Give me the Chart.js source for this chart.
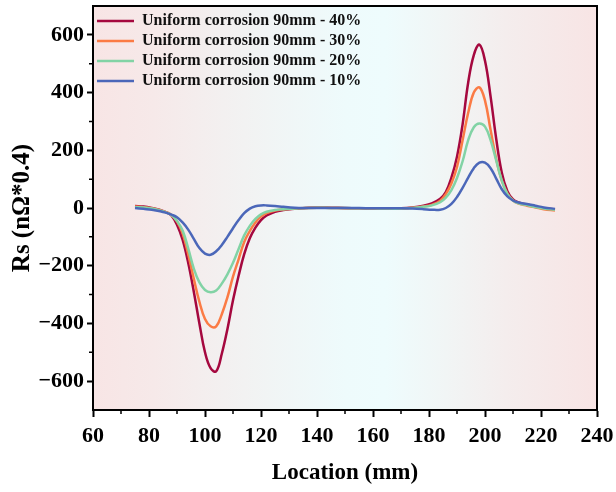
<!DOCTYPE html>
<html>
<head>
<meta charset="utf-8">
<script src="https://cdn.jsdelivr.net/npm/chart.js@4.4.1/dist/chart.umd.min.js"></script>
<style>
  html, body { margin: 0; padding: 0; background: #fff; }
  #wrap { width: 616px; height: 492px; }
</style>
</head>
<body>
<div id="wrap"><canvas id="rsChart" width="616" height="492"></canvas></div>
<script>
"use strict";

// Location (mm), shared by all four curves
var locations = [75, 78, 81, 84, 86, 88, 90, 92, 94, 96, 98, 100, 102, 104, 106, 108, 110, 112, 114, 116,
    118, 120, 122, 125, 128, 132, 136, 140, 145, 150, 155, 160, 165, 170, 174, 178, 181, 184, 186, 188,
    190, 192, 194, 196, 198, 200, 202, 204, 206, 208, 210, 212, 215, 218, 221, 225];

var rs40 = [7, 5, 0, -7, -14, -26, -58, -110, -190, -290, -400, -500, -555, -566, -505, -420, -320, -235, -160, -105,
    -68, -42, -26, -13, -7, -3, 0, 2, 1, 0, -1, -2, -2, -1, 2, 8, 16, 32, 55, 105,
    178, 290, 435, 530, 566, 510, 386, 240, 122, 58, 30, 19, 12, 5, -1, -5];

var rs30 = [5, 3, -1, -8, -14, -24, -46, -88, -160, -245, -325, -385, -410, -410, -368, -310, -238, -178, -118, -80,
    -50, -30, -18, -9, -5, -2, 0, 1, 0, -1, -1, -2, -3, -2, 1, 5, 11, 25, 48, 85,
    142, 235, 330, 400, 418, 372, 270, 170, 95, 50, 26, 15, 8, 2, -4, -9];

var rs20 = [3, 2, -2, -9, -15, -24, -45, -78, -140, -210, -258, -284, -292, -286, -262, -230, -190, -142, -95, -62,
    -38, -22, -13, -7, -4, -2, 0, 1, 0, 0, -1, -1, -2, -2, 0, 4, 9, 20, 36, 62,
    104, 162, 235, 280, 293, 282, 235, 165, 95, 48, 26, 16, 10, 3, -2, -6];

var rs10 = [0, -3, -6, -11, -16, -23, -32, -50, -75, -107, -139, -158, -162, -150, -128, -100, -70, -42, -18, -2,
    6, 9, 9, 7, 4, 1, 0, 0, 0, 0, 0, -1, -1, -1, -2, -4, -6, -6, 0, 14,
    38, 70, 105, 138, 157, 157, 138, 102, 65, 40, 26, 19, 14, 8, 2, -3];

var seriesLabels = ["Uniform corrosion 90mm - 40%", "Uniform corrosion 90mm - 30%",
    "Uniform corrosion 90mm - 20%", "Uniform corrosion 90mm - 10%"];
var seriesColors = ["#a5083f", "#fb7b45", "#82d3a5", "#4b67b9"];

var xTicks = [60, 80, 100, 120, 140, 160, 180, 200, 220, 240];
var yTicks = [-600, -400, -200, 0, 200, 400, 600];

var serifBold = function (size) {
    return { family: "'Liberation Serif', 'Times New Roman', serif", size: size, weight: "bold" };
};

function toPoints(values) {
    return locations.map(function (x, i) { return { x: x, y: values[i] }; });
}

// background gradient inside the plot
var plotBackground = {
    id: "plotBackground",
    beforeDraw: function (chart) {
        var a = chart.chartArea, ctx = chart.ctx;
        var g = ctx.createLinearGradient(a.left, 0, a.right, 0);
        g.addColorStop(0, "#f8e5e5");
        g.addColorStop(0.12, "#f6e9e9");
        g.addColorStop(0.3, "#f2f2f2");
        g.addColorStop(0.5, "#eefbfc");
        g.addColorStop(0.58, "#eefcfd");
        g.addColorStop(0.7, "#f1f5f5");
        g.addColorStop(0.82, "#f4eded");
        g.addColorStop(1, "#f8e4e4");
        ctx.save();
        ctx.fillStyle = g;
        ctx.fillRect(a.left, a.top, a.right - a.left, a.bottom - a.top);
        ctx.restore();
    }
};

// frame + short minor ticks
var frameAndMinor = {
    id: "frameAndMinor",
    afterDraw: function (chart) {
        var a = chart.chartArea, ctx = chart.ctx;
        var xs = chart.scales.x, ys = chart.scales.y;
        ctx.save();
        ctx.strokeStyle = "#000";
        ctx.lineWidth = 2;
        ctx.strokeRect(a.left, a.top, a.right - a.left, a.bottom - a.top);
        ctx.lineWidth = 1.5;
        ctx.beginPath();
        xs.ticks.forEach(function (t) {
            if (xTicks.indexOf(t.value) < 0) {
                var px = xs.getPixelForValue(t.value);
                ctx.moveTo(px, a.bottom);
                ctx.lineTo(px, a.bottom + 4);
            }
        });
        ys.ticks.forEach(function (t) {
            if (yTicks.indexOf(t.value) < 0 && Math.abs(t.value) < 700) {
                var py = ys.getPixelForValue(t.value);
                ctx.moveTo(a.left, py);
                ctx.lineTo(a.left - 4, py);
            }
        });
        ctx.stroke();
        ctx.restore();
    }
};

var datasets = [rs40, rs30, rs20, rs10].map(function (vals, i) {
    return {
        label: seriesLabels[i],
        data: toPoints(vals),
        borderColor: seriesColors[i],
        backgroundColor: seriesColors[i],
        borderWidth: 2.5,
        pointRadius: 0,
        tension: 0.4,
        fill: false,
        order: 3 - i
    };
});

var RSCHART = document.getElementById("rsChart");
var myChart = new Chart(RSCHART, {
    type: "line",
    data: { datasets: datasets },
    plugins: [plotBackground, frameAndMinor],
    options: {
        responsive: false,
        animation: false,
        layout: { padding: { left: 0, top: 6, right: 19, bottom: 0 } },
        plugins: {
            tooltip: { enabled: false },
            legend: {
                position: "chartArea",
                align: "start",
                // tiny empty title only used to push the entries down a bit
                title: { display: true, text: "", font: { size: 2 }, padding: 3.3 },
                labels: {
                    usePointStyle: true,
                    pointStyle: "line",
                    pointStyleWidth: 37,
                    padding: 4,
                    color: "#111",
                    font: serifBold(16),
                    sort: function (a, b) { return a.datasetIndex - b.datasetIndex; }
                }
            }
        },
        scales: {
            x: {
                type: "linear",
                min: 60,
                max: 240,
                afterFit: function (scale) {
                    scale.height = 82;
                    scale.paddingLeft = 0;
                    scale.paddingRight = 0;
                },
                border: { display: true, color: "#000", width: 2 },
                grid: {
                    drawOnChartArea: false,
                    tickLength: 7,
                    tickWidth: 2,
                    tickColor: function (c) {
                        return c.tick && xTicks.indexOf(c.tick.value) >= 0 ? "#000" : "rgba(0,0,0,0)";
                    }
                },
                ticks: {
                    stepSize: 10,
                    autoSkip: false,
                    maxRotation: 0,
                    padding: 6,
                    color: "#000",
                    font: serifBold(22),
                    callback: function (v) { return xTicks.indexOf(v) >= 0 ? String(v) : ""; }
                },
                title: {
                    display: true,
                    text: "Location (mm)",
                    color: "#000",
                    font: serifBold(23),
                    padding: { top: 0, bottom: 5 }
                }
            },
            y: {
                type: "linear",
                min: -700,
                max: 700,
                afterFit: function (scale) {
                    scale.width = 93;
                    scale.paddingTop = 0;
                    scale.paddingBottom = 0;
                },
                border: { display: true, color: "#000", width: 2 },
                grid: {
                    drawOnChartArea: false,
                    tickLength: 6,
                    tickWidth: 2,
                    tickColor: function (c) {
                        return c.tick && yTicks.indexOf(c.tick.value) >= 0 ? "#000" : "rgba(0,0,0,0)";
                    }
                },
                ticks: {
                    stepSize: 100,
                    autoSkip: false,
                    padding: 3,
                    color: "#000",
                    font: serifBold(22),
                    callback: function (v) {
                        return yTicks.indexOf(v) >= 0 ? String(v).replace("-", "\u2212") : "";
                    }
                },
                title: {
                    display: true,
                    text: "Rs (n\u03A9*0.4)",
                    color: "#000",
                    font: serifBold(25),
                    padding: { top: 8, bottom: 0 }
                }
            }
        }
    }
});
</script>
</body>
</html>
